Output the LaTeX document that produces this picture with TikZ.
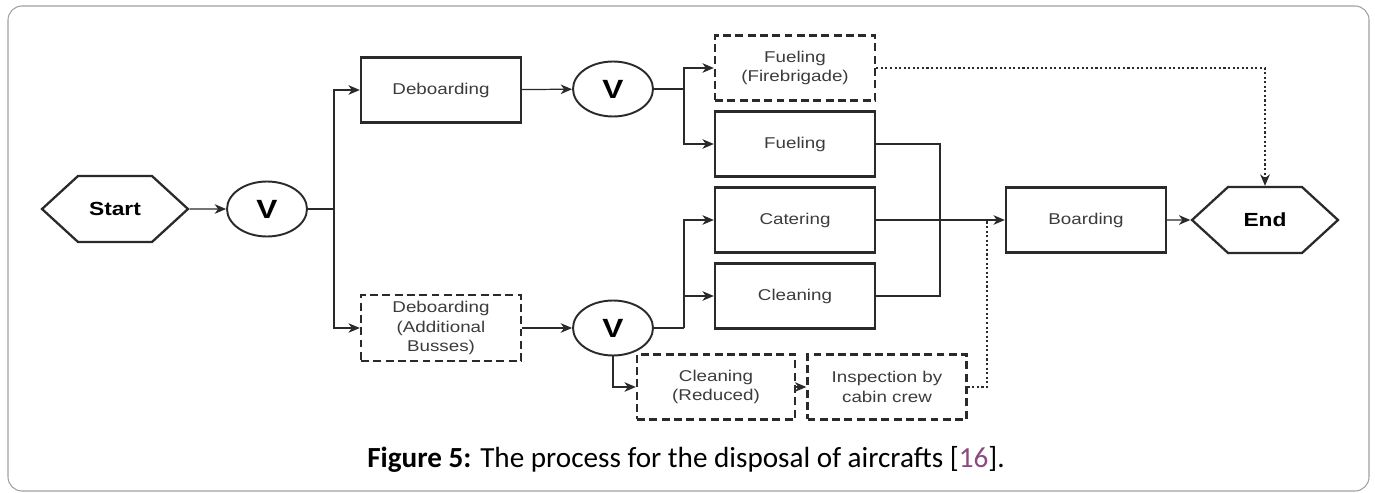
\documentclass[tikz,border=0pt]{standalone}
\usepackage{fontspec}
\setmainfont{Liberation Sans}[FakeStretch=1.2]
\newfontfamily\capfont{Carlito}
\usetikzlibrary{arrows.meta,shapes.geometric,shapes.symbols}
\definecolor{linegray}{HTML}{2A2A2A}
\definecolor{textgray}{HTML}{3C3C3C}
\definecolor{framegray}{HTML}{A0A0A0}
\definecolor{citepurple}{HTML}{8C4A80}
\tikzset{
	task/.style={draw=linegray, line width=1.4pt, rectangle, minimum width=3.2cm, minimum height=1.3cm, align=center, text=textgray, font=\fontsize{8.9}{11.3}\selectfont},
	optional/.style={task, dash pattern=on 4.5pt off 2.5pt},
	gate/.style={draw=linegray, line width=1.1pt, ellipse, minimum width=1.6cm, minimum height=1.1cm, inner sep=0pt, font=\fontsize{15}{17}\selectfont\bfseries},
	terminal/.style={draw=linegray, line width=1.3pt, signal, signal to=west and east, signal pointer angle=85, minimum width=2.92cm, minimum height=1.32cm, font=\fontsize{10.8}{13}\selectfont\bfseries},
	flow/.style={draw=linegray, line width=0.7pt, -{Stealth[length=6.5pt, width=5.5pt, inset=2pt]}},
	link/.style={draw=linegray, line width=0.7pt},
	hint/.style={flow, dash pattern=on 1.2pt off 1.4pt}
}
\begin{document}
\begin{tikzpicture}[x=0.02cm, y=-0.02cm]
	\useasboundingbox (0,0) rectangle (1375,493);
	\draw[framegray, line width=0.6pt, rounded corners=8] (8,6) rectangle (1369,491);
	\node[terminal] (start) at (115,209) {Start};
	\node[gate] (v1) at (267,209) {V};
	\coordinate (b1) at (334,209);
	\node[task] (deb) at (441,90) {Deboarding};
	\node[optional] (debadd) at (441,328) {Deboarding\\(Additional\\Busses)};
	\node[gate] (v2) at (613,89) {V};
	\coordinate (b2) at (684,89);
	\node[gate] (v3) at (613,328) {V};
	\coordinate (b3) at (684,328);
	\node[optional] (fuelfb) at (795,68) {Fueling\\(Firebrigade)};
	\node[task] (fuel) at (795,144) {Fueling};
	\node[task] (cater) at (795,220) {Catering};
	\node[task] (clean) at (795,296) {Cleaning};
	\node[optional, minimum width=3.16cm] (cleanred) at (716,387) {Cleaning\\(Reduced)};
	\node[optional, minimum width=3.18cm] (insp) at (887,387) {Inspection by\\cabin crew};
	\coordinate (m1) at (940,144);
	\coordinate (m2) at (940,296);
	\coordinate (m3) at (987,387);
	\coordinate (m4) at (987,220);
	\node[task] (board) at (1086,220) {Boarding};
	\node[terminal] (finish) at (1265,220) {End};
	\draw[flow] (start) -- (v1);
	\draw[link] (v1) -- (b1);
	\draw[flow] (b1) |- (deb);
	\draw[flow] (b1) |- (debadd);
	\draw[flow] (deb) -- (v2);
	\draw[link] (v2) -- (b2);
	\draw[flow] (b2) |- (fuelfb);
	\draw[flow] (b2) |- (fuel);
	\draw[flow] (debadd) -- (v3);
	\draw[link] (v3) -- (b3);
	\draw[flow] (b3) |- (cater);
	\draw[flow] (b3) |- (clean);
	\draw[flow] (v3) |- (cleanred);
	\draw[flow] (cleanred) -- (insp);
	\draw[link] (fuel) -- (m1) -- (m2) -- (clean);
	\draw[flow] (cater) -- (board);
	\draw[hint, -] (insp) -- (m3) -- (m4);
	\draw[hint] (fuelfb) -| (finish);
	\draw[flow] (board) -- (finish);
	\node[anchor=base, font=\capfont\fontsize{16.6}{20}\selectfont] (caption) at (686,467) {\textbf{Figure 5:} The process for the disposal of aircrafts [{\color{citepurple}16}].};
\end{tikzpicture}
\end{document}
